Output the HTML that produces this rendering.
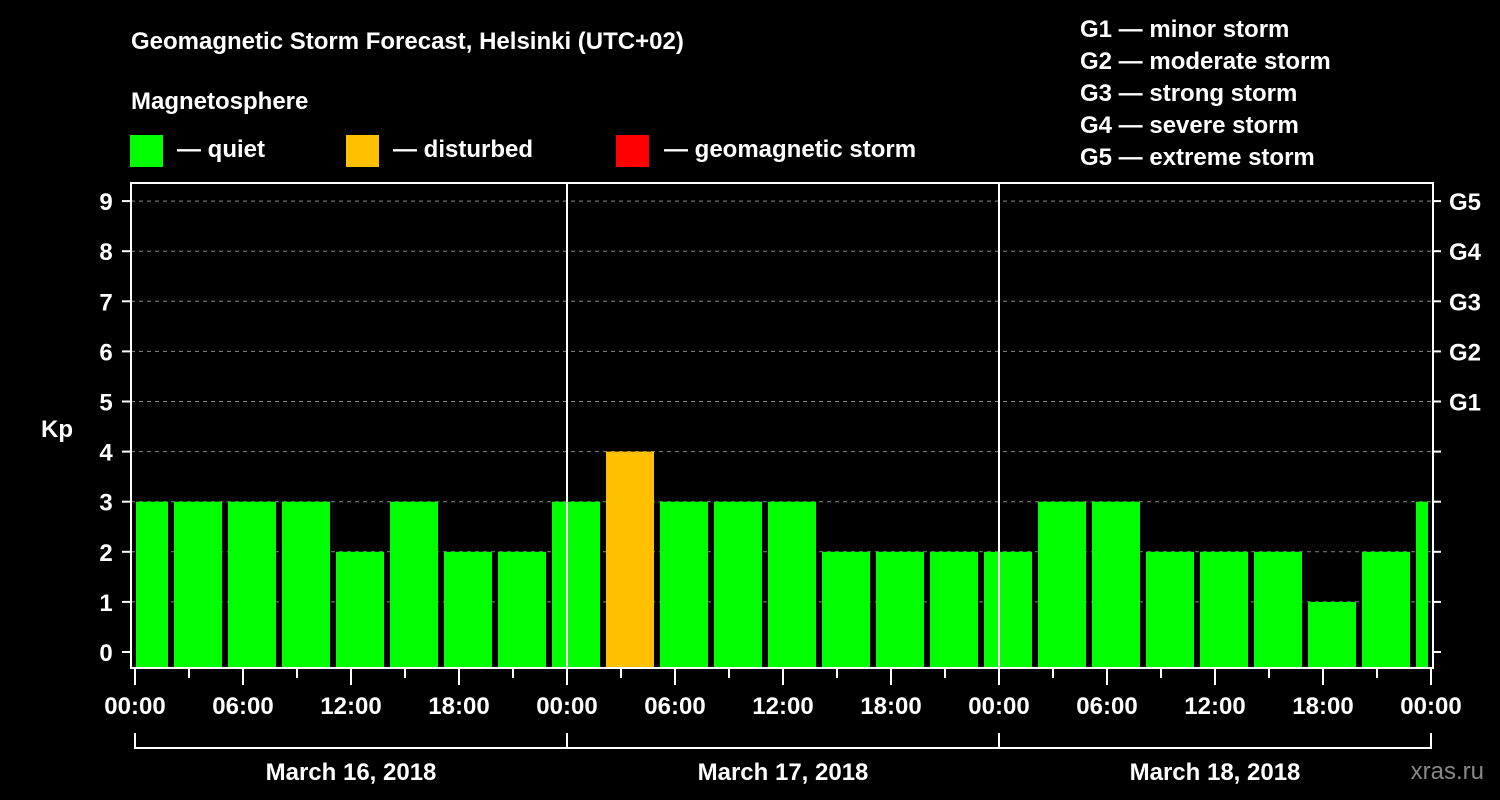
<!DOCTYPE html>
<html><head><meta charset="utf-8"><style>
html,body{margin:0;padding:0;background:#000;width:1500px;height:800px;overflow:hidden}
svg{display:block;font-family:"Liberation Sans",Arial,sans-serif;font-weight:bold}
</style></head><body>
<svg id="chart" width="1500" height="800" xmlns="http://www.w3.org/2000/svg">
<rect width="1500" height="800" fill="#000"/>
<text x="131" y="49" fill="#fff" font-size="24">Geomagnetic Storm Forecast, Helsinki (UTC+02)</text>
<text x="131" y="109" fill="#fff" font-size="24">Magnetosphere</text>
<g><rect x="130" y="135" width="33" height="32" fill="#00ff00"/><text x="177" y="157" fill="#fff" font-size="24">— quiet</text></g>
<g><rect x="346" y="135" width="33" height="32" fill="#ffc000"/><text x="393" y="157" fill="#fff" font-size="24">— disturbed</text></g>
<g><rect x="616" y="135" width="33" height="32" fill="#ff0000"/><text x="664" y="157" fill="#fff" font-size="24">— geomagnetic storm</text></g>
<g font-size="24" fill="#fff">
<text x="1080" y="37">G1 — minor storm</text>
<text x="1080" y="69">G2 — moderate storm</text>
<text x="1080" y="101">G3 — strong storm</text>
<text x="1080" y="133">G4 — severe storm</text>
<text x="1080" y="165">G5 — extreme storm</text>
</g>
<text x="41" y="437" fill="#fff" font-size="24">Kp</text>
<text x="1484" y="779" fill="#888" font-size="24" font-weight="normal" text-anchor="end">xras.ru</text>
<g id="grid"></g>
<g id="bars"></g>
<g id="axes"></g>
</svg>
<script>
const kpValues=[3,3,3,3,2,3,2,2,3,4,3,3,3,2,2,2,2,3,3,2,2,2,1,2,3];
const yTickLabels=["0","1","2","3","4","5","6","7","8","9"];
const gLabels=["G1","G2","G3","G4","G5"];
const timeLabels=["00:00","06:00","12:00","18:00","00:00","06:00","12:00","18:00","00:00","06:00","12:00","18:00","00:00"];
const dayLabels=["March 16, 2018","March 17, 2018","March 18, 2018"];
const NS="http://www.w3.org/2000/svg";
const L=131,R=1433,T=183,B=668;
const x=h=>135+h*18;           // hours -> px
const y=v=>652-v*50.1;          // kp -> px
function mk(tag,attrs,parent){const e=document.createElementNS(NS,tag);for(const k in attrs)e.setAttribute(k,attrs[k]);parent.appendChild(e);return e;}
const grid=document.getElementById('grid'),bars=document.getElementById('bars'),axes=document.getElementById('axes');
// grid lines & y ticks
yTickLabels.forEach((lab,i)=>{
  const yy=y(i);
  if(i>0){const g=mk('line',{x1:L,x2:R,y1:yy,y2:yy,stroke:'#888','stroke-width':1,'stroke-dasharray':'4,4'},grid);
  
  }
  const t=mk('line',{x1:122,x2:L,y1:yy,y2:yy,stroke:'#fff','stroke-width':2},axes);
  
  
  const t2=mk('line',{x1:R,x2:1441,y1:yy,y2:yy,stroke:'#fff','stroke-width':2},axes);
  
  
  const tx=mk('text',{x:106,y:yy+9,fill:'#fff','font-size':24,'text-anchor':'middle'},axes);
  tx.textContent=lab;
  
  
});
gLabels.forEach((lab,i)=>{
  const tx=mk('text',{x:1449,y:y(5+i)+9,fill:'#fff','font-size':24},axes);
  tx.textContent=lab;
  
  
});
// bars
kpValues.forEach((v,k)=>{
  const c=x(0.5+3*k);
  let x0=Math.max(c-24,136),x1=Math.min(c+24,1428);
  const col=v>=5?'#ff0000':(v>=4?'#ffc000':'#00ff00');
  const r=mk('rect',{x:x0,y:y(v),width:x1-x0,height:B-y(v),fill:col},bars);
  
  
});
// frame & day separators
const f=mk('rect',{x:L,y:T,width:R-L,height:B-T,fill:'none',stroke:'#fff','stroke-width':2},axes);


[24,48].forEach(h=>{const s=mk('line',{x1:x(h),x2:x(h),y1:T,y2:B,stroke:'#fff','stroke-width':2},axes);

});
// x ticks
for(let h=0;h<=72;h+=3){
  const major=h%6===0;
  const t=mk('line',{x1:x(h),x2:x(h),y1:B,y2:major?685:678,stroke:'#fff','stroke-width':2},axes);
  
  
}
timeLabels.forEach((lab,i)=>{
  const tx=mk('text',{x:x(i*6),y:714,fill:'#fff','font-size':24,'text-anchor':'middle'},axes);
  tx.textContent=lab;
  
  
});
// day bracket
const br=mk('line',{x1:x(0),x2:x(72),y1:748,y2:748,stroke:'#fff','stroke-width':2},axes);


[0,24,48,72].forEach(h=>{const s=mk('line',{x1:x(h),x2:x(h),y1:733,y2:749,stroke:'#fff','stroke-width':2},axes);

});
dayLabels.forEach((lab,i)=>{
  const tx=mk('text',{x:x(12+24*i),y:780,fill:'#fff','font-size':24,'text-anchor':'middle'},axes);
  tx.textContent=lab;
  
  
});
</script>
</body></html>
